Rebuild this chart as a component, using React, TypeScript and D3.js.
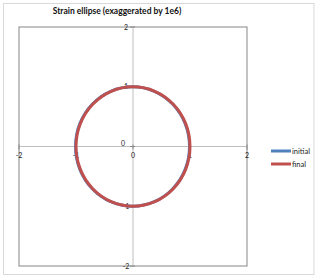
import React from "react";
import * as d3 from "d3";

const circleX = [1, 0.924, 0.707, 0.383, 0, -0.383, -0.707, -0.924, -1, -0.924, -0.707, -0.383, 0, 0.383, 0.707, 0.924];
const circleY = [0, 0.383, 0.707, 0.924, 1, 0.924, 0.707, 0.383, 0, -0.383, -0.707, -0.924, -1, -0.924, -0.707, -0.383];
const seriesNames = ["initial", "final"];
const seriesColors = ["#4F81BD", "#C0504D"];
const ticks = [-2, -1, 0, 1, 2];

const W = 318;
const H = 280;
const plot = { left: 19, right: 247, top: 27, bottom: 266 };

export default function App() {
  const x = d3.scaleLinear().domain([-2, 2]).range([plot.left, plot.right]);
  const y = d3.scaleLinear().domain([-2, 2]).range([plot.bottom, plot.top]);
  const pts: [number, number][] = circleX.map((v, i) => [v, circleY[i]]);
  const line = d3
    .line<[number, number]>()
    .x((d) => x(d[0]))
    .y((d) => y(d[1]))
    .curve(d3.curveCatmullRomClosed.alpha(0.5));
  const path = line(pts) || "";
  const x0 = x(0);
  const y0 = y(0);
  const font = "Lato, 'Open Sans', sans-serif";

  return (
    <svg
      width={W}
      height={H}
      style={{ position: "absolute", left: 0, top: 0, background: "#fff" }}
      fontFamily={font}
    >
      <rect x={3.5} y={3.5} width={310.5} height={271} fill="#fff" stroke="#D9D9D9" strokeWidth={1} />
      <text x={117} y={14} textAnchor="middle" fontSize={8.5} fontWeight="bold" fill="#111">
        Strain ellipse (exaggerated by 1e6)
      </text>
      <rect
        x={plot.left}
        y={plot.top}
        width={plot.right - plot.left}
        height={plot.bottom - plot.top}
        fill="none"
        stroke="#868686"
        strokeWidth={1}
      />
      <line x1={x0} x2={x0} y1={plot.top} y2={plot.bottom} stroke="#BFBFBF" />
      <line x1={plot.left} x2={plot.right} y1={y0} y2={y0} stroke="#BFBFBF" />
      {ticks.map((t) => (
        <g key={"x" + t}>
          <line x1={x(t)} x2={x(t)} y1={y0 - 2} y2={y0 + 3} stroke="#868686" />
          <text x={x(t)} y={y0 + 11} textAnchor="middle" fontSize={7} fill="#222">
            {t}
          </text>
        </g>
      ))}
      {ticks.map((t) => (
        <g key={"y" + t}>
          <line x1={x0 - 3} x2={x0 + 2} y1={y(t)} y2={y(t)} stroke="#868686" />
          {t !== 0 && (
            <text x={x0 - 7} y={y(t) + 2.5} textAnchor="middle" fontSize={7} fill="#222">
              {t}
            </text>
          )}
        </g>
      ))}
      <text x={x0 - 10} y={y0 - 1} textAnchor="middle" fontSize={7} fill="#222">
        0
      </text>
      {seriesNames.map((s, i) => (
        <path key={s} d={path} fill="none" stroke={seriesColors[i]} strokeWidth={3} transform={i === 0 ? "translate(-0.5,0)" : undefined} />
      ))}
      {seriesNames.map((s, i) => (
        <g key={"lg" + s} transform={`translate(271,${151 + i * 13})`}>
          <line x1={0} x2={20} y1={0} y2={0} stroke={seriesColors[i]} strokeWidth={3} />
          <text x={21} y={2.5} fontSize={7.5} fill="#222">
            {s}
          </text>
        </g>
      ))}
    </svg>
  );
}
